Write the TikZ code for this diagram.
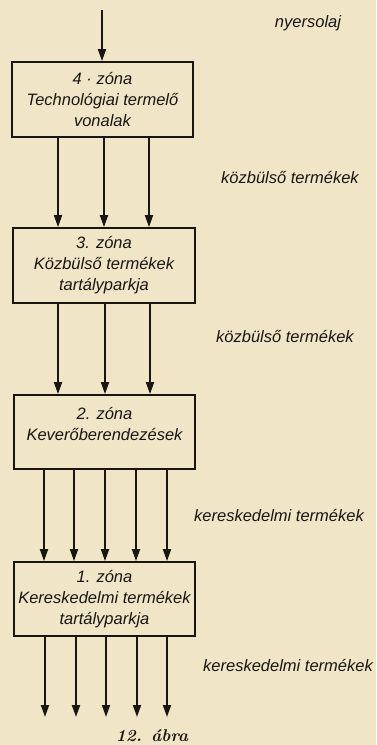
\documentclass[tikz,border=0pt]{standalone}
\usepackage{fontspec}
\setmainfont{Latin Modern Roman}
\newfontfamily\handfont{Liberation Sans}
\usetikzlibrary{arrows.meta,calc}
\definecolor{paper}{RGB}{240,229,198}
\definecolor{ink}{RGB}{25,22,18}
\tikzset{
  zonebox/.style={draw=ink, line width=1.8pt, minimum width=181pt, minimum height=75pt,
    align=center, font=\handfont\itshape\fontsize{16.5}{21}\selectfont, text=ink, inner sep=0pt},
  flow/.style={draw=ink, line width=1.8pt, -{Triangle[length=12pt,width=8pt]}},
  lbl/.style={font=\handfont\itshape\fontsize{16.5}{18}\selectfont, text=ink, inner sep=0pt}
}
\begin{document}
\begin{tikzpicture}[x=1pt,y=-1pt]
\fill[paper] (0,0) rectangle (376,745);
\useasboundingbox (0,0) rectangle (376,745);

\node[zonebox] (z4) at (102.5,99.5) {4 · zóna\\Technológiai termelő\\vonalak};
\node[zonebox, minimum width=182pt] (z3) at (104,265.5) {3. zóna\\Közbülső termékek\\tartályparkja};
\node[zonebox, minimum height=74pt, text depth=16pt] (z2) at (104.5,432) {2. zóna\\Keverőberendezések};
\node[zonebox, minimum height=74pt] (z1) at (104.5,599) {1. zóna\\Kereskedelmi termékek\\tartályparkja};

\coordinate (in) at (102,10);
\draw[flow] (in) -- (in |- z4.north);

% zone 4 -> zone 3
\foreach \x in {58,104,149}{
  \draw[flow] (\x,0 |- z4.south) -- (\x,0 |- z3.north);
}
% zone 3 -> zone 2
\foreach \x in {58,105,150}{
  \draw[flow] (\x,0 |- z3.south) -- (\x,0 |- z2.north);
}
% zone 2 -> zone 1
\foreach \x in {44,74,105,136,167}{
  \draw[flow] (\x,0 |- z2.south) -- (\x,0 |- z1.north);
}
% zone 1 -> out
\coordinate (out) at (0,717);
\foreach \x in {45,76,106,137,167}{
  \draw[flow] (\x,0 |- z1.south) -- (\x,0 |- out);
}

\node[lbl] (l0) at (308,23) {nyersolaj};
\node[lbl] (l1) at (290,178) {közbülső termékek};
\node[lbl] (l2) at (285,337) {közbülső termékek};
\node[lbl] (l3) at (279,516) {kereskedelmi termékek};
\node[lbl] (l4) at (288,666) {kereskedelmi termékek};

\node[font=\bfseries\itshape\fontsize{17}{20}\selectfont, text=ink, inner sep=0pt] (cap) at (152,736) {12. ábra};
\end{tikzpicture}
\end{document}
